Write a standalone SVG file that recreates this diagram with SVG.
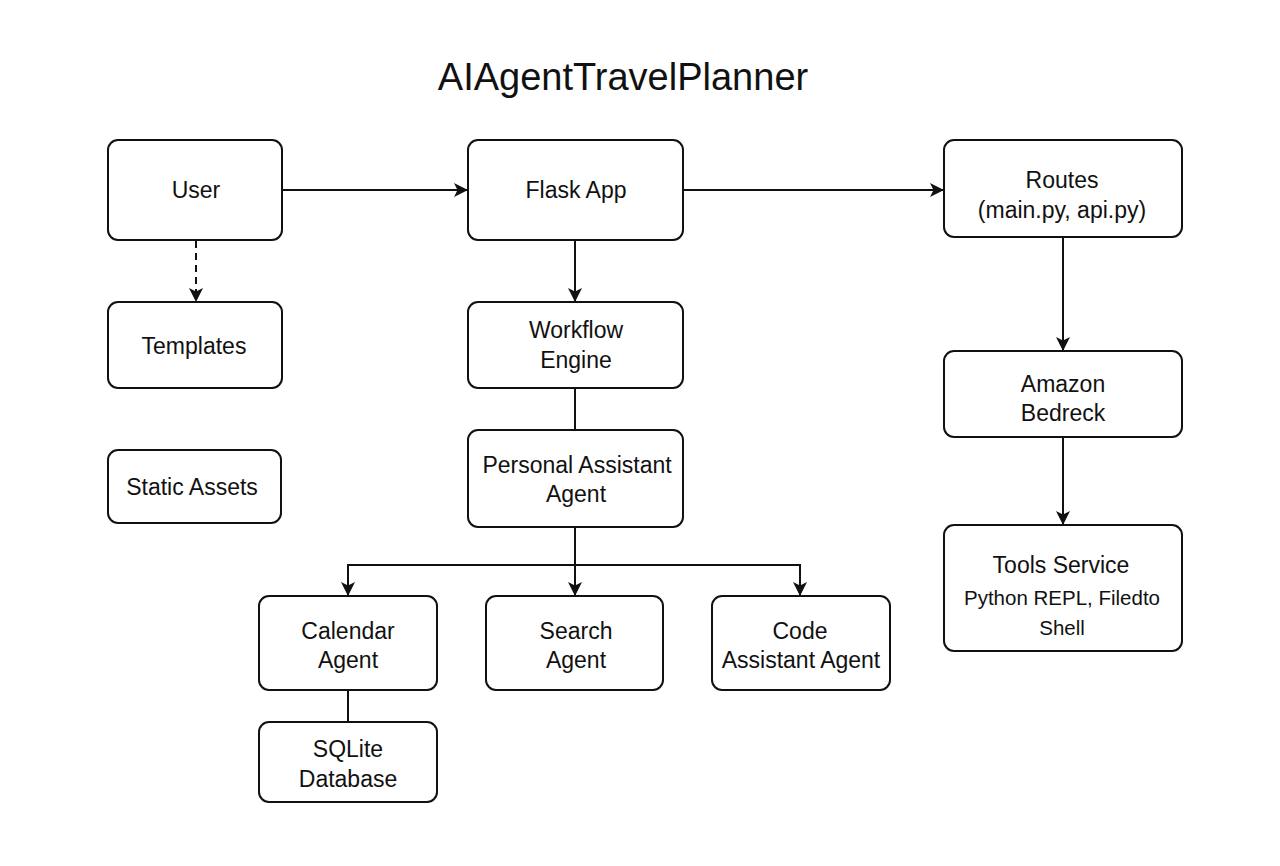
<svg xmlns="http://www.w3.org/2000/svg" width="1280" height="866" viewBox="0 0 1280 866">
<defs>
<style>
.box{fill:#fff;stroke:#111;stroke-width:2}
.t{font-family:"Liberation Sans",Arial,sans-serif;font-size:23px;fill:#111;text-anchor:middle}
.s{font-family:"Liberation Sans",Arial,sans-serif;font-size:20.5px;fill:#111;text-anchor:middle}
.c{fill:none;stroke:#111;stroke-width:2}
</style>
<marker id="ah" viewBox="0 0 14 14" refX="13" refY="7" markerWidth="14" markerHeight="14" markerUnits="userSpaceOnUse" orient="auto">
<path d="M0,0 L14,7 L0,14 L3.5,7 Z" fill="#111"/>
</marker>
</defs>
<rect width="1280" height="866" fill="#fff"/>
<text x="623" y="90" font-family="'Liberation Sans',Arial,sans-serif" font-size="38" fill="#111" text-anchor="middle">AIAgentTravelPlanner</text>
<g id="connectors">
<path class="c" d="M282,190 H467" marker-end="url(#ah)"/>
<path class="c" d="M683,190 H943" marker-end="url(#ah)"/>
<path class="c" d="M196,241 V301" stroke-dasharray="7,5" marker-end="url(#ah)"/>
<path class="c" d="M575,240 V301" marker-end="url(#ah)"/>
<path class="c" d="M575,388 V430"/>
<path class="c" d="M575,527 V595" marker-end="url(#ah)"/>
<path class="c" d="M348,595 V565 H800 V595" marker-end="url(#ah)"/>
<path class="c" d="M348,566 V595" marker-end="url(#ah)"/>
<path class="c" d="M348,690 V722"/>
<path class="c" d="M1063,237 V350" marker-end="url(#ah)"/>
<path class="c" d="M1063,437 V524" marker-end="url(#ah)"/>
</g>
<g id="user"><rect class="box" x="108" y="140" width="174" height="100" rx="10"/><text class="t" x="196" y="198">User</text></g>
<g id="templates"><rect class="box" x="108" y="302" width="174" height="86" rx="10"/><text class="t" x="194" y="354">Templates</text></g>
<g id="static"><rect class="box" x="108" y="450" width="173" height="73" rx="10"/><text class="t" x="192" y="495">Static Assets</text></g>
<g id="flask"><rect class="box" x="468" y="140" width="215" height="100" rx="10"/><text class="t" x="576" y="198">Flask App</text></g>
<g id="workflow"><rect class="box" x="468" y="302" width="215" height="86" rx="10"/><text class="t" x="576" y="338">Workflow</text><text class="t" x="576" y="368">Engine</text></g>
<g id="pa"><rect class="box" x="468" y="430" width="215" height="97" rx="10"/><text class="t" x="577" y="473">Personal Assistant</text><text class="t" x="576" y="502">Agent</text></g>
<g id="routes"><rect class="box" x="944" y="140" width="238" height="97" rx="10"/><text class="t" x="1062" y="188">Routes</text><text class="t" x="1062" y="218">(main.py, api.py)</text></g>
<g id="bedrock"><rect class="box" x="944" y="351" width="238" height="86" rx="10"/><text class="t" x="1063" y="392">Amazon</text><text class="t" x="1063" y="421">Bedreck</text></g>
<g id="tools"><rect class="box" x="944" y="525" width="238" height="126" rx="10"/><text class="t" x="1061" y="573" font-size="24">Tools Service</text><text class="s" x="1062" y="605">Python REPL, Filedto</text><text class="s" x="1062" y="635">Shell</text></g>
<g id="calendar"><rect class="box" x="259" y="596" width="178" height="94" rx="10"/><text class="t" x="348" y="639">Calendar</text><text class="t" x="348" y="668">Agent</text></g>
<g id="search"><rect class="box" x="486" y="596" width="177" height="94" rx="10"/><text class="t" x="576" y="639">Search</text><text class="t" x="576" y="668">Agent</text></g>
<g id="code"><rect class="box" x="712" y="596" width="178" height="94" rx="10"/><text class="t" x="800" y="639">Code</text><text class="t" x="801" y="668">Assistant Agent</text></g>
<g id="sqlite"><rect class="box" x="259" y="722" width="178" height="80" rx="10"/><text class="t" x="348" y="757">SQLite</text><text class="t" x="348" y="787">Database</text></g>
</svg>
